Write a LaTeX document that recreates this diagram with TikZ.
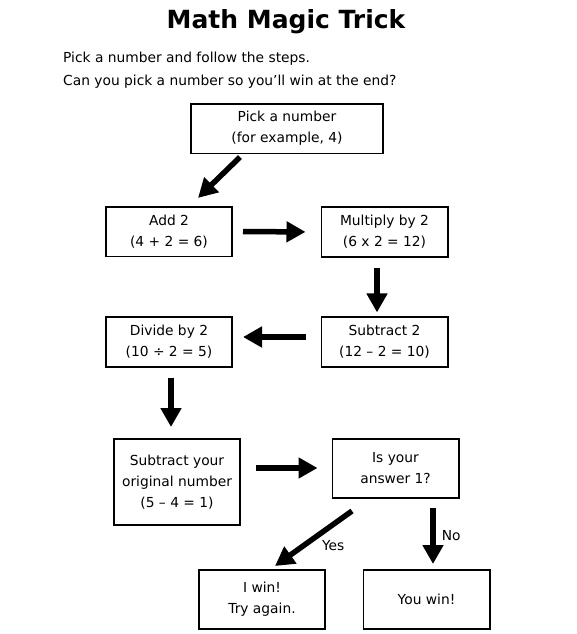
\documentclass[tikz,border=0pt]{standalone}
\usepackage{fontspec}
\setmainfont{DejaVu Sans}
\usetikzlibrary{arrows.meta}
\tikzset{
	mmt_text/.style = {align=center, inner sep=0pt, text centered,
		font=\fontsize{13.8}{21}\selectfont},
	mmt_box/.style = {mmt_text, rectangle, draw=black, line width=1.6pt,
		minimum width=126.4pt, minimum height=49.6pt},% boite d'etape
	mmt_arr/.style = {-{Triangle[length=19pt,width=20pt]},
		line width=5.5pt},% fleche epaisse
	mmt_lbl/.style = {font=\fontsize{13.8}{16}\selectfont, inner sep=2pt}% etiquette oui/non
}
\begin{document}
\begin{tikzpicture}[x=1pt,y=-1pt]
		\useasboundingbox (0,0) rectangle (576,634);
		\node [font=\fontsize{25}{28}\selectfont\bfseries, anchor=base] (title)
			at (286,29) {Math Magic Trick};
		\node [mmt_text, anchor=base west] (intro_a) at (63,63)
			{Pick a number and follow the steps.};
		\node [mmt_text, anchor=base west] (intro_b) at (63,85)
			{Can you pick a number so you'll win at the end?};
		% etapes
		\node [mmt_box, minimum width=192pt] (pick) at (287,128.5)
			{Pick a number\\(for example, 4)};
		\node [mmt_box] (add) at (169,231.5) {Add 2\\(4 + 2 = 6)};
		\node [mmt_box] (mult) at (384.5,232) {Multiply by 2\\(6 x 2 = 12)};
		\node [mmt_box] (div) at (169,342) {Divide by 2\\(10 ÷ 2 = 5)};
		\node [mmt_box] (sub_two) at (384.5,342) {Subtract 2\\(12 – 2 = 10)};
		\node [mmt_box, minimum height=86.4pt] (sub_orig) at (177,482)
			{Subtract your\\original number\\(5 – 4 = 1)};
		\node [mmt_box, minimum height=59.4pt] (ask) at (395.5,468.5)
			{Is your\\answer 1?};
		\node [mmt_box, minimum height=59.4pt] (i_win) at (262,599.5)
			{I win!\\Try again.};
		\node [mmt_box, minimum height=59.4pt] (you_win) at (426.5,599.5)
			{You win!};
		% fleches
		\draw [mmt_arr] ([xshift=-47pt,yshift=-3pt]pick.south)
			-- ([xshift=29pt,yshift=8pt]add.north);
		\draw [mmt_arr, shorten <=10pt, shorten >=15pt] (add.east) -- (mult.west);
		\draw [mmt_arr, shorten <=10pt, shorten >=4pt] ([xshift=-7.5pt]mult.south)
			-- ([xshift=-7.5pt]sub_two.north);
		\draw [mmt_arr, shorten <=15pt, shorten >=10pt] ([yshift=5pt]sub_two.west)
			-- ([yshift=5pt]div.east);
		\draw [mmt_arr, shorten <=10pt, shorten >=11pt] ([xshift=2pt]div.south)
			-- ([xshift=-6pt]sub_orig.north);
		\draw [mmt_arr, shorten <=15pt, shorten >=14pt] ([yshift=14pt]sub_orig.east)
			-- ([yshift=0.5pt]ask.west);
		\draw [mmt_arr] ([xshift=-43.5pt,yshift=-12pt]ask.south)
			-- ([xshift=13pt,yshift=3pt]i_win.north)
			node [mmt_lbl, pos=0.45, anchor=north west] (yes_lbl) {Yes};
		\draw [mmt_arr] ([xshift=37.5pt,yshift=-9pt]ask.south)
			-- ([xshift=6.5pt,yshift=5pt]you_win.north)
			node [mmt_lbl, midway, right=4pt] (no_lbl) {No};
\end{tikzpicture}
\end{document}
